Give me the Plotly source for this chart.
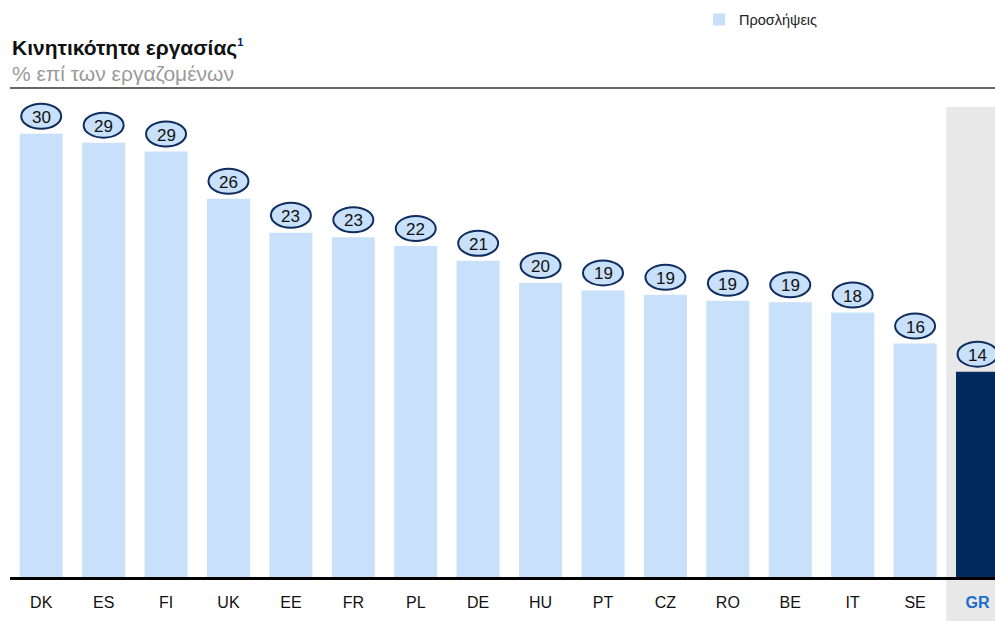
import plotly.graph_objects as go

countries = ["DK", "ES", "FI", "UK", "EE", "FR", "PL", "DE", "HU", "PT", "CZ", "RO", "BE", "IT", "SE", "GR"]
values = [30.0, 29.4, 28.8, 25.6, 23.3, 23.0, 22.4, 21.4, 19.9, 19.4, 19.1, 18.7, 18.6, 17.9, 15.8, 13.9]
highlight = "GR"
legend_name = "Προσλήψεις"
title_text = "Κινητικότητα εργασίας"
subtitle_text = "% επί των εργαζομένων"

LIGHT = "#c8e0f9"
NAVY = "#002a5e"
BORDER = "#0f2d5f"
FONT = "Liberation Sans, Arial, sans-serif"

x_idx = list(range(len(countries)))
colors = [NAVY if c == highlight else LIGHT for c in countries]
ticktext = [
    f"<b><span style='color:#1b6ccf'>{c}</span></b>" if c == highlight else c
    for c in countries
]

fig = go.Figure()
fig.add_trace(go.Bar(
    x=x_idx, y=values, marker=dict(color=colors, line=dict(width=0)),
    width=0.69, name=legend_name, showlegend=True, hoverinfo="skip",
))

shapes = []
annotations = []
hi = countries.index(highlight)
# highlight band
shapes.append(dict(type="rect", xref="x", yref="paper", x0=hi - 0.5, x1=hi + 1.5,
                   y0=-0.09, y1=0.961, fillcolor="#e8e8e8", line=dict(width=0), layer="below"))
# value ellipses
for i, v in zip(x_idx, values):
    shapes.append(dict(type="circle", xref="x", yref="y", xsizemode="pixel", ysizemode="pixel",
                       xanchor=i, yanchor=v, x0=-20, x1=20, y0=5, y1=30,
                       fillcolor=LIGHT, line=dict(color=BORDER, width=2), layer="above"))
    annotations.append(dict(x=i, y=v, xref="x", yref="y", text=f"{v:.0f}", showarrow=False,
                            yshift=16.5, yanchor="middle", font=dict(size=17, color="#111", family=FONT)))
# top rule
shapes.append(dict(type="line", xref="paper", yref="paper", x0=0, x1=1, y0=1, y1=1,
                   line=dict(color="#333", width=1.5)))

annotations.append(dict(xref="paper", yref="paper", x=0, y=1.082, xanchor="left", yanchor="middle",
                        text=f"<b>{title_text}</b><sup><b><span style='color:{NAVY};font-size:11px'>1</span></b></sup>",
                        showarrow=False, font=dict(size=21, color="#111", family=FONT)))
annotations.append(dict(xref="paper", yref="paper", x=0, y=1.03, xanchor="left", yanchor="middle",
                        text=subtitle_text, showarrow=False,
                        font=dict(size=21, color="#9a9a9a", family=FONT)))

fig.update_layout(
    width=995, height=621,
    margin=dict(l=10, r=0, t=88, b=44),
    plot_bgcolor="white", paper_bgcolor="white",
    font=dict(family=FONT, size=16, color="#111"),
    shapes=shapes, annotations=annotations,
    showlegend=True,
    legend=dict(x=0.6995, y=1.14, xanchor="left", yanchor="middle", orientation="h",
                font=dict(size=14.5, color="#222", family=FONT), bgcolor="rgba(0,0,0,0)"),
    bargap=0.31,
)
fig.update_xaxes(range=[-0.5, 15.28], tickvals=x_idx, ticktext=ticktext, showline=True,
                 linecolor="black", linewidth=3, ticks="", showgrid=False, zeroline=False,
                 ticklabelstandoff=9,
                 tickfont=dict(size=16, color="#111", family=FONT), fixedrange=True)
fig.update_yaxes(range=[0, 33.1], visible=False, showgrid=False, zeroline=False, fixedrange=True)

fig.write_html("out.html", config={"displayModeBar": False, "staticPlot": True},
               post_script="document.body.style.margin='0';document.body.style.overflow='hidden';")
